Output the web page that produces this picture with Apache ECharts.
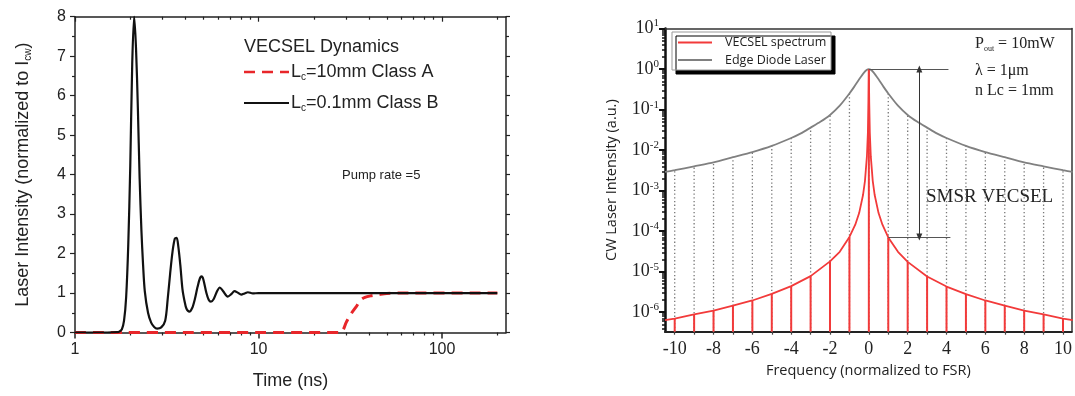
<!DOCTYPE html>
<html><head><meta charset="utf-8">
<script src="https://cdn.jsdelivr.net/npm/echarts@6/dist/echarts.min.js"></script>
<style>html,body{margin:0;padding:0;background:#fff}#c{width:1075px;height:396px}</style>
</head><body><div id="c"></div>
<script>
// ---------- Left panel: VECSEL dynamics ----------
const timeB = [1, 1.5, 1.7, 1.75, 1.8, 1.85, 1.9, 1.95, 2.0, 2.05, 2.1, 2.15, 2.2, 2.25, 2.3, 2.35, 2.4, 2.5, 2.6, 2.7, 2.8, 2.95, 3.1, 3.2, 3.3, 3.4, 3.5, 3.58, 3.65, 3.75, 3.85, 3.95, 4.05, 4.2, 4.35, 4.5, 4.65, 4.8, 4.9, 5.0, 5.2, 5.35, 5.5, 5.7, 5.95, 6.15, 6.4, 6.8, 7.1, 7.4, 7.7, 8.05, 8.4, 8.75, 9.3, 10, 12, 200];
const intensityB = [0, 0, 0.01, 0.03, 0.08, 0.3, 0.9, 2.2, 4.2, 6.8, 8.0, 7.2, 5.7, 3.9, 2.6, 1.7, 1.05, 0.5, 0.25, 0.14, 0.1, 0.13, 0.3, 0.85, 1.5, 2.05, 2.38, 2.4, 2.2, 1.7, 1.1, 0.8, 0.6, 0.53, 0.62, 0.85, 1.15, 1.38, 1.42, 1.35, 1.0, 0.83, 0.78, 0.85, 1.05, 1.14, 1.05, 0.91, 0.97, 1.05, 1.01, 0.96, 0.99, 1.02, 0.99, 1.0, 1.0, 1.0];
const timeA = [1, 28, 29, 30, 32, 34, 36, 38, 41, 45, 50, 60, 200];
const intensityA = [0, 0, 0.08, 0.25, 0.48, 0.65, 0.82, 0.89, 0.93, 0.96, 0.99, 1.0, 1.0];
const timeTicks = [1, 10, 100];
const timeMinorTicks = [2, 3, 4, 5, 6, 7, 8, 9, 20, 30, 40, 50, 60, 70, 80, 90, 200];

// ---------- Right panel: spectra ----------
const freqEdge = [-10.5, -10, -9, -8, -7, -6, -5, -4, -3.5, -3, -2.5, -2, -1.5, -1, -0.75, -0.5, -0.25, -0.1, 0, 0.1, 0.25, 0.5, 0.75, 1, 1.5, 2, 2.5, 3, 3.5, 4, 5, 6, 7, 8, 9, 10, 10.5];
const edgeDiode = [2.9e-3, 3.2e-3, 4.0e-3, 5.0e-3, 6.7e-3, 9.0e-3, 1.28e-2, 2.0e-2, 2.6e-2, 3.6e-2, 5.0e-2, 7.4e-2, 0.125, 0.25, 0.37, 0.56, 0.82, 0.96, 1, 0.96, 0.82, 0.56, 0.37, 0.25, 0.125, 7.4e-2, 5.0e-2, 3.6e-2, 2.6e-2, 2.0e-2, 1.28e-2, 9.0e-3, 6.7e-3, 5.0e-3, 4.0e-3, 3.2e-3, 2.9e-3];
const freqVecsel = [-10.5, -10, -9, -8, -7, -6, -5, -4, -3, -2, -1.5, -1, -0.7, -0.5, -0.3, -0.2, -0.1, -0.05, -0.02, 0, 0.02, 0.05, 0.1, 0.2, 0.3, 0.5, 0.7, 1, 1.5, 2, 3, 4, 5, 6, 7, 8, 9, 10, 10.5];
const vecsel = [6.4e-7, 7.0e-7, 8.8e-7, 1.1e-6, 1.45e-6, 1.95e-6, 2.85e-6, 4.4e-6, 7.8e-6, 1.8e-5, 3.1e-5, 7.2e-5, 1.45e-4, 2.8e-4, 7.8e-4, 1.75e-3, 7e-3, 2.7e-2, 0.15, 1, 0.15, 2.7e-2, 7e-3, 1.75e-3, 7.8e-4, 2.8e-4, 1.45e-4, 7.0e-5, 3.1e-5, 1.75e-5, 7.6e-6, 4.3e-6, 2.8e-6, 1.95e-6, 1.45e-6, 1.1e-6, 8.8e-7, 7.0e-7, 6.4e-7];
const freqTicks = [-10, -8, -6, -4, -2, 0, 2, 4, 6, 8, 10];
const freqMinorTicks = [-10, -9, -8, -7, -6, -5, -4, -3, -2, -1, 0, 1, 2, 3, 4, 5, 6, 7, 8, 9, 10];
const intensityTicks = [1e-6, 1e-5, 1e-4, 1e-3, 1e-2, 1e-1, 1, 10];
const intensityMinorTicks = [];
[-7, -6, -5, -4, -3, -2, -1, 0].forEach(e => [2, 3, 4, 5, 6, 7, 8, 9].forEach(m => intensityMinorTicks.push(+(m * Math.pow(10, e)).toPrecision(3))));
// SMSR annotation (frequency, intensity)
const smsrArrowX = 2.6;
const smsrTop = 1;
const smsrBottom = 7.2e-5;
const smsrTopLineEnd = 4.1;
const smsrBottomLine = [1, 4.2];

const zip = (a, b) => a.map((v, i) => [v, b[i]]);
const intStems = (fx, fy) => fx.map((v, i) => [v, fy[i]]).filter(p => Number.isInteger(p[0]));

const SANS = 'Liberation Sans', SERIF = 'Liberation Serif', MYR = 'Open Sans';

function stem(color, width, dash) {
  return function (params, api) {
    const top = api.coord([api.value(0), api.value(1)]);
    const cs = params.coordSys;
    return { type: 'line', shape: { x1: top[0], y1: cs.y + cs.height, x2: top[0], y2: top[1] },
      style: { stroke: color, lineWidth: width, lineDash: dash } };
  };
}

const chart = echarts.init(document.getElementById('c'), null, { renderer: 'canvas' });
const axisCol = '#222';
const hiddenLine = { show: false, onZero: false };
const logX = { type: 'log', gridIndex: 0, min: 1, max: 223, splitLine: { show: false }, axisLine: { onZero: false, lineStyle: { color: axisCol, width: 1.5 } } };

const option = {
  animation: false,
  backgroundColor: '#fff',
  grid: [
    { left: 75, top: 16.7, right: 569, bottom: 63.5 },
    { left: 665, top: 28.6, right: 1.7, bottom: 64.3 }
  ],
  xAxis: [
    Object.assign({}, logX, { position: 'bottom', name: 'Time (ns)', nameLocation: 'middle', nameGap: 40,
      nameTextStyle: { fontFamily: SANS, fontSize: 18, color: axisCol },
      axisTick: { customValues: timeTicks, length: 6, lineStyle: { color: axisCol, width: 1.5 } },
      axisLabel: { customValues: timeTicks, margin: 9, fontFamily: SANS, fontSize: 16, color: axisCol } }),
    Object.assign({}, logX, { position: 'bottom', axisLine: hiddenLine,
      axisTick: { customValues: timeMinorTicks, length: 3, lineStyle: { color: axisCol, width: 1.2 } }, axisLabel: { show: false } }),
    Object.assign({}, logX, { position: 'top',
      axisTick: { customValues: timeTicks, inside: true, length: 5, lineStyle: { color: axisCol, width: 1.2 } }, axisLabel: { show: false } }),
    Object.assign({}, logX, { position: 'top', axisLine: hiddenLine,
      axisTick: { customValues: timeMinorTicks, inside: true, length: 3, lineStyle: { color: axisCol, width: 1.2 } }, axisLabel: { show: false } }),
    { type: 'value', gridIndex: 1, position: 'bottom', min: -10.5, max: 10.45, splitLine: { show: false },
      name: 'Frequency (normalized to FSR)', nameLocation: 'middle', nameGap: 32,
      nameTextStyle: { fontFamily: MYR, fontSize: 14.5, color: axisCol },
      axisLine: { onZero: false, lineStyle: { color: axisCol, width: 2 } },
      axisTick: { customValues: freqMinorTicks, length: 3, lineStyle: { color: '#444', width: 1.2 } },
      axisLabel: { customValues: freqTicks, margin: 9, fontFamily: SERIF, fontSize: 18, color: axisCol } },
    { type: 'value', gridIndex: 1, position: 'top', min: -10.5, max: 10.45, splitLine: { show: false },
      axisLine: { onZero: false, lineStyle: { color: '#333', width: 1.5 } }, axisTick: { show: false }, axisLabel: { show: false } }
  ],
  yAxis: [
    { type: 'value', gridIndex: 0, position: 'left', min: 0, max: 8, interval: 1, splitLine: { show: false },
      name: '{a|Laser Intensity (normalized to I}{s|cw}{a|)}', nameLocation: 'middle', nameGap: 42, nameRotate: 90,
      nameTextStyle: { fontFamily: SANS, fontSize: 18, color: axisCol,
        rich: { a: { fontFamily: SANS, fontSize: 18, color: axisCol }, s: { fontFamily: SANS, fontSize: 10, color: axisCol, padding: [10, 0, 0, 0] } } },
      axisLine: { onZero: false, lineStyle: { color: axisCol, width: 1.5 } },
      axisTick: { length: 5, lineStyle: { color: axisCol, width: 1.2 } },
      minorTick: { show: true, splitNumber: 2, length: 3, lineStyle: { color: axisCol, width: 1.2 } },
      axisLabel: { margin: 9, fontFamily: SANS, fontSize: 16, color: axisCol } },
    { type: 'value', gridIndex: 0, position: 'right', min: 0, max: 8, interval: 1, splitLine: { show: false },
      axisLine: { onZero: false, lineStyle: { color: axisCol, width: 1.5 } },
      axisTick: { length: 4, lineStyle: { color: axisCol, width: 1.2 } },
      minorTick: { show: true, splitNumber: 2, length: 3, lineStyle: { color: axisCol, width: 1.2 } },
      axisLabel: { show: false } },
    { type: 'log', gridIndex: 1, position: 'left', min: 3.31e-7, max: 10, splitLine: { show: false },
      name: 'CW Laser Intensity (a.u.)', nameLocation: 'middle', nameGap: 46, nameRotate: 90,
      nameTextStyle: { fontFamily: MYR, fontSize: 14.5, color: axisCol },
      axisLine: { onZero: false, lineStyle: { color: '#111', width: 2.5 } },
      axisTick: { customValues: intensityTicks, length: 6, lineStyle: { color: '#111', width: 2 } },
      axisLabel: { customValues: intensityTicks, margin: 6,
        formatter: v => '{b|10}{s|' + Math.round(Math.log10(v)) + '}',
        rich: { b: { fontFamily: SERIF, fontSize: 18, color: axisCol }, s: { fontFamily: SERIF, fontSize: 11, color: axisCol, padding: [0, 0, 10, 0] } } } },
    { type: 'log', gridIndex: 1, position: 'left', min: 3.31e-7, max: 10, splitLine: { show: false },
      axisLine: hiddenLine,
      axisTick: { customValues: intensityMinorTicks, length: 3, lineStyle: { color: '#111', width: 1.5 } }, axisLabel: { show: false } },
    { type: 'log', gridIndex: 1, position: 'right', min: 3.31e-7, max: 10, splitLine: { show: false },
      axisLine: { onZero: false, lineStyle: { color: '#333', width: 1.5 } }, axisTick: { show: false }, axisLabel: { show: false } }
  ],
  series: [
    { name: 'Lc=10mm Class A', type: 'line', xAxisIndex: 0, yAxisIndex: 0, data: zip(timeA, intensityA), smooth: 0.3,
      symbol: 'none', lineStyle: { color: '#e8262a', width: 3, type: [11, 7] } },
    { name: 'Lc=0.1mm Class B', type: 'line', xAxisIndex: 0, yAxisIndex: 0, data: zip(timeB, intensityB), smooth: 0.3,
      symbol: 'none', lineStyle: { color: '#111', width: 2.2 } },
    { name: 'edgeStems', type: 'custom', xAxisIndex: 4, yAxisIndex: 2, data: intStems(freqEdge, edgeDiode),
      renderItem: stem('#777', 1.3, [1.3, 2.4]), silent: true },
    { name: 'vecselStems', type: 'custom', xAxisIndex: 4, yAxisIndex: 2, data: intStems(freqVecsel, vecsel),
      renderItem: stem('#f23a3a', 2, null), silent: true },
    { name: 'Edge Diode Laser', type: 'line', xAxisIndex: 4, yAxisIndex: 2, data: zip(freqEdge, edgeDiode), smooth: 0.2,
      symbol: 'none', lineStyle: { color: '#808080', width: 1.8 },
      markLine: { silent: true, symbol: 'none', label: { show: false }, animation: false,
        lineStyle: { color: '#555', width: 1.2, type: 'solid' },
        data: [
          [{ coord: [0, smsrTop] }, { coord: [smsrTopLineEnd, smsrTop] }],
          [{ coord: [smsrBottomLine[0], smsrBottom] }, { coord: [smsrBottomLine[1], smsrBottom] }],
          [{ coord: [smsrArrowX, smsrTop], symbol: 'triangle', symbolSize: [6, 7], lineStyle: { color: '#333', width: 1 } },
           { coord: [smsrArrowX, smsrBottom], symbol: 'triangle', symbolSize: [6, 7] }]
        ] } },
    { name: 'VECSEL spectrum', type: 'line', xAxisIndex: 4, yAxisIndex: 2, data: zip(freqVecsel, vecsel),
      symbol: 'none', lineStyle: { color: '#f23a3a', width: 1.8 } }
  ],
  graphic: [
    // left legend
    { type: 'text', x: 244, y: 47, style: { text: 'VECSEL Dynamics', font: '18px "Liberation Sans"', fill: '#222', textVerticalAlign: 'middle' } },
    { type: 'line', shape: { x1: 244, y1: 72, x2: 289, y2: 72 }, style: { stroke: '#e8262a', lineWidth: 2.5, lineDash: [11, 7] } },
    { type: 'text', x: 291, y: 72, style: { text: '{a|L}{s|c}{a|=10mm Class A}', textVerticalAlign: 'middle', fill: '#222',
      rich: { a: { fontFamily: SANS, fontSize: 18, fill: '#222' }, s: { fontFamily: SANS, fontSize: 10, fill: '#222', padding: [11, 0, 0, 0] } } } },
    { type: 'line', shape: { x1: 244, y1: 103, x2: 289, y2: 103 }, style: { stroke: '#111', lineWidth: 2.2 } },
    { type: 'text', x: 291, y: 103, style: { text: '{a|L}{s|c}{a|=0.1mm Class B}', textVerticalAlign: 'middle', fill: '#222',
      rich: { a: { fontFamily: SANS, fontSize: 18, fill: '#222' }, s: { fontFamily: SANS, fontSize: 10, fill: '#222', padding: [11, 0, 0, 0] } } } },
    { type: 'text', x: 342, y: 175, style: { text: 'Pump rate =5', font: '13px "Liberation Sans"', fill: '#222', textVerticalAlign: 'middle' } },
    // right legend box
    { type: 'rect', shape: { x: 672, y: 32, width: 159, height: 38 },
      style: { fill: '#fff', stroke: '#999', lineWidth: 1, shadowColor: '#000', shadowOffsetX: 4, shadowOffsetY: 4, shadowBlur: 0 } },
    { type: 'line', shape: { x1: 678, y1: 42.5, x2: 712, y2: 42.5 }, style: { stroke: '#f23a3a', lineWidth: 2 } },
    { type: 'text', x: 725, y: 42.5, style: { text: 'VECSEL spectrum', font: '12.5px "Open Sans"', fill: '#222', textVerticalAlign: 'middle' } },
    { type: 'line', shape: { x1: 678, y1: 60, x2: 712, y2: 60 }, style: { stroke: '#808080', lineWidth: 2 } },
    { type: 'text', x: 725, y: 60, style: { text: 'Edge Diode Laser', font: '12.5px "Open Sans"', fill: '#222', textVerticalAlign: 'middle' } },
    // right annotations
    { type: 'text', x: 975, y: 44, style: { text: '{a|P}{s|out}{a| = 10mW}', textVerticalAlign: 'middle', fill: '#222',
      rich: { a: { fontFamily: SERIF, fontSize: 16, fill: '#222' }, s: { fontFamily: SERIF, fontSize: 8, fill: '#222', padding: [10, 0, 0, 0] } } } },
    { type: 'text', x: 975, y: 70.5, style: { text: 'λ = 1μm', font: '16px "Liberation Serif"', fill: '#222', textVerticalAlign: 'middle' } },
    { type: 'text', x: 975, y: 91, style: { text: 'n Lc = 1mm', font: '16px "Liberation Serif"', fill: '#222', textVerticalAlign: 'middle' } },
    { type: 'text', x: 926, y: 197, style: { text: 'SMSR VECSEL', font: '19px "Liberation Serif"', fill: '#222', textVerticalAlign: 'middle' } }
  ]
};
chart.setOption(option);
</script></body></html>
